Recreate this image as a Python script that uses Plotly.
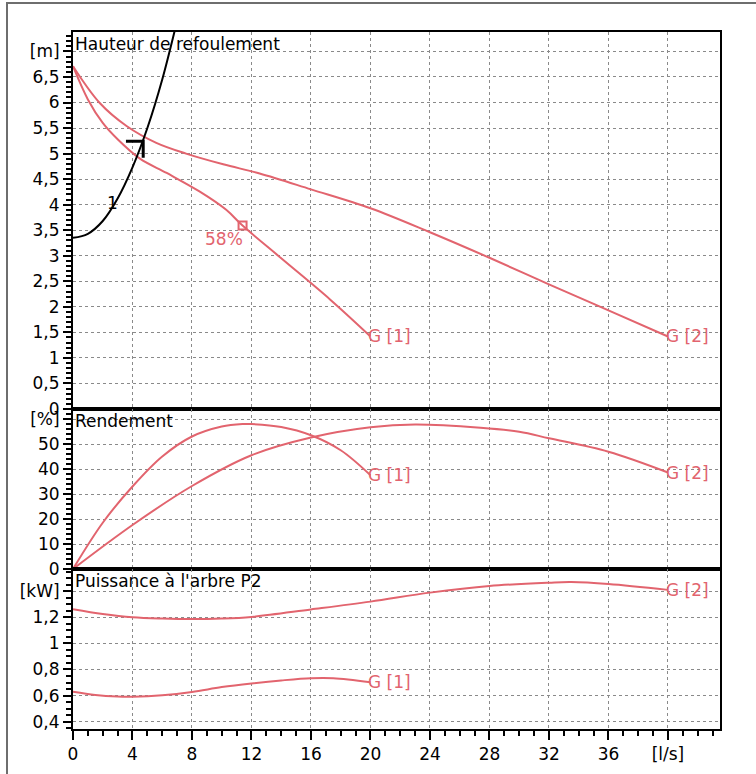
import plotly.graph_objects as go
from plotly.subplots import make_subplots

RED = "#E2646E"
FONT = "DejaVu Sans, Liberation Sans, Arial, sans-serif"
FS = 17

# ---- Data ----
# Head curves [m] vs flow [l/s]
q_h1 = [0, 1.0, 2.0, 3.0, 4.5, 6.3, 8.5, 10.3, 11.4, 14, 17.3, 20]
h_g1 = [6.71, 6.06, 5.6, 5.28, 4.9, 4.62, 4.26, 3.9, 3.59, 2.95, 2.14, 1.42]
q_h2 = [0, 1.8, 3.6, 5.6, 7.6, 10.1, 12.55, 16, 20, 24, 28, 32, 36, 40]
h_g2 = [6.71, 5.99, 5.54, 5.21, 5.0, 4.79, 4.61, 4.3, 3.93, 3.46, 2.96, 2.44, 1.93, 1.42]
# System curve "1"
q_sys = [0, 1, 2, 3, 4, 5, 6, 7]
h_sys = [3.35, 3.43, 3.68, 4.12, 4.73, 5.5, 6.45, 7.6]
# Duty point marker
duty_q = [3.56, 4.72, 4.72]
duty_h = [5.24, 5.24, 4.92]
# Best-efficiency point
bep_q = [11.4]
bep_h = [3.59]
bep_label = "58%"
sys_label_q, sys_label_h = 2.68, 4.04

# Efficiency [%]
q_e1 = [0, 2, 4, 6, 8, 10, 11.4, 12, 14, 16, 18, 20]
e_g1 = [0, 18.5, 33.0, 45.0, 53.0, 57.0, 58.0, 58.0, 56.8, 53.5, 47.5, 37.5]
q_e2 = [0, 4, 8, 12, 16, 20, 23, 27.4, 30, 32, 36, 40]
e_g2 = [0, 17.6, 33.2, 45.5, 52.6, 56.7, 57.8, 56.5, 54.9, 52.3, 46.9, 38.6]

# Power P2 [kW]
q_p1 = [0, 1.5, 3, 4, 6, 8, 10, 12, 14, 16, 17.5, 20]
p_g1 = [0.63, 0.605, 0.593, 0.592, 0.603, 0.628, 0.665, 0.693, 0.716, 0.733, 0.733, 0.702]
q_p2 = [0, 2, 4, 6, 8, 10, 12, 16, 20, 24, 28, 32, 33.5, 36, 40]
p_g2 = [1.262, 1.225, 1.2, 1.19, 1.186, 1.19, 1.203, 1.26, 1.32, 1.389, 1.44, 1.465, 1.47, 1.455, 1.41]

curve_labels = ["G [1]", "G [2]"]

# Tick labels
x_tickvals = [0, 4, 8, 12, 16, 20, 24, 28, 32, 36, 40]
x_ticktext = ["0", "4", "8", "12", "16", "20", "24", "28", "32", "36", "[l/s]"]
h_tickvals = [0, 0.5, 1, 1.5, 2, 2.5, 3, 3.5, 4, 4.5, 5, 5.5, 6, 6.5, 7]
h_ticktext = ["0", "0,5", "1", "1,5", "2", "2,5", "3", "3,5", "4", "4,5", "5", "5,5", "6", "6,5", "[m]"]
e_tickvals = [0, 10, 20, 30, 40, 50, 60]
e_ticktext = ["0", "10", "20", "30", "40", "50", "[%]"]
p_tickvals = [0.4, 0.6, 0.8, 1.0, 1.2, 1.4]
p_ticktext = ["0,4", "0,6", "0,8", "1", "1,2", "[kW]"]

panel_titles = ["Hauteur de refoulement", "Rendement", "Puissance à l'arbre P2"]

# ---- Figure ----
fig = make_subplots(rows=3, cols=1, shared_xaxes=True, vertical_spacing=0,
                    row_heights=[377, 160, 160])

line_red = dict(color=RED, width=2, shape="spline", smoothing=1.0)

fig.add_trace(go.Scatter(x=q_h1, y=h_g1, mode="lines", line=line_red), row=1, col=1)
fig.add_trace(go.Scatter(x=q_h2, y=h_g2, mode="lines", line=line_red), row=1, col=1)
fig.add_trace(go.Scatter(x=q_sys, y=h_sys, mode="lines",
                         line=dict(color="black", width=2, shape="spline", smoothing=1.0)),
              row=1, col=1)
fig.add_trace(go.Scatter(x=duty_q, y=duty_h, mode="lines",
                         line=dict(color="black", width=3)), row=1, col=1)
fig.add_trace(go.Scatter(x=bep_q, y=bep_h, mode="markers",
                         marker=dict(symbol="square-open", size=8, color=RED,
                                     line=dict(color=RED, width=2))), row=1, col=1)

fig.add_trace(go.Scatter(x=q_e1, y=e_g1, mode="lines", line=line_red), row=2, col=1)
fig.add_trace(go.Scatter(x=q_e2, y=e_g2, mode="lines", line=line_red), row=2, col=1)

fig.add_trace(go.Scatter(x=q_p1, y=p_g1, mode="lines", line=line_red), row=3, col=1)
fig.add_trace(go.Scatter(x=q_p2, y=p_g2, mode="lines", line=line_red), row=3, col=1)

grid = dict(showgrid=True, gridcolor="#8a8a8a", griddash="dot", gridwidth=1)
axline = dict(showline=True, linecolor="black", linewidth=2, mirror=True, zeroline=False,
              automargin=False)

for r in (1, 2, 3):
    fig.update_xaxes(range=[0, 43.5], tickmode="array", tickvals=x_tickvals,
                     **grid, **axline, row=r, col=1)
fig.update_xaxes(showticklabels=False, ticks="", row=1, col=1)
fig.update_xaxes(showticklabels=False, ticks="", row=2, col=1)
fig.update_xaxes(showticklabels=True, ticktext=x_ticktext, ticks="outside", ticklen=9,
                 tickwidth=2, tickcolor="black",
                 minor=dict(dtick=1, tick0=0, ticklen=5, tickwidth=2, tickcolor="black",
                            ticks="outside", showgrid=False),
                 row=3, col=1)

yt = dict(ticks="outside", ticklen=8, tickwidth=2, tickcolor="black", tickmode="array")
fig.update_yaxes(range=[0, 7.38], tickvals=h_tickvals, ticktext=h_ticktext, **yt, **grid, **axline,
                 minor=dict(dtick=0.1, tick0=0, ticklen=5, tickwidth=1.5, tickcolor="black",
                            ticks="outside", showgrid=False), row=1, col=1)
fig.update_yaxes(range=[0, 64], tickvals=e_tickvals, ticktext=e_ticktext, **yt, **grid, **axline,
                 minor=dict(dtick=2, tick0=0, ticklen=5, tickwidth=1.5, tickcolor="black",
                            ticks="outside", showgrid=False), row=2, col=1)
fig.update_yaxes(range=[0.344, 1.57], tickvals=p_tickvals, ticktext=p_ticktext, **yt, **grid, **axline,
                 minor=dict(dtick=0.05, tick0=0, ticklen=5, tickwidth=1.5, tickcolor="black",
                            ticks="outside", showgrid=False), row=3, col=1)

# Panel titles
for i, t in enumerate(panel_titles):
    yref = "y domain" if i == 0 else f"y{i+1} domain"
    xref = "x domain" if i == 0 else f"x{i+1} domain"
    fig.add_annotation(x=0, y=1, xref=xref, yref=yref, text=t, showarrow=False,
                       xanchor="left", yanchor="top", xshift=0, yshift=0,
                       font=dict(color="black", size=FS, family=FONT))

# Curve-end labels
ends = [
    ("x", "y", q_h1[-1], h_g1[-1], curve_labels[0]),
    ("x", "y", q_h2[-1], h_g2[-1], curve_labels[1]),
    ("x2", "y2", q_e1[-1], e_g1[-1], curve_labels[0]),
    ("x2", "y2", q_e2[-1], e_g2[-1], curve_labels[1]),
    ("x3", "y3", q_p1[-1], p_g1[-1], curve_labels[0]),
    ("x3", "y3", q_p2[-1], p_g2[-1], curve_labels[1]),
]
for xr, yr, xv, yv, t in ends:
    fig.add_annotation(x=xv, y=yv, xref=xr, yref=yr, text=t, showarrow=False,
                       xanchor="left", yanchor="middle", xshift=-4,
                       font=dict(color=RED, size=FS, family=FONT))

fig.add_annotation(x=bep_q[0], y=bep_h[0], xref="x", yref="y", text=bep_label, showarrow=False,
                   xanchor="right", yanchor="top", xshift=2, yshift=-1,
                   font=dict(color=RED, size=FS, family=FONT))
fig.add_annotation(x=sys_label_q, y=sys_label_h, xref="x", yref="y", text="1", showarrow=False,
                   xanchor="center", yanchor="middle",
                   font=dict(color="black", size=FS, family=FONT))

# Outer frame (extends past right/bottom edges)
fig.add_shape(type="rect", xref="paper", yref="paper",
              x0=(7 - 73) / 647, x1=1.3, y0=-0.3, y1=(729 - 3) / 697,
              line=dict(color="#6e6e6e", width=2), fillcolor="rgba(0,0,0,0)", layer="above")

fig.update_layout(width=756, height=774, showlegend=False,
                  margin=dict(l=73, r=36, t=32, b=45, autoexpand=False),
                  paper_bgcolor="white", plot_bgcolor="white",
                  font=dict(family=FONT, size=FS, color="black"))

# remove the default page margin so the figure sits at the window's top-left corner
fig.write_html("out.html", config={"displayModeBar": False},
               post_script="document.body.style.margin='0px';document.body.style.overflow='hidden';")
